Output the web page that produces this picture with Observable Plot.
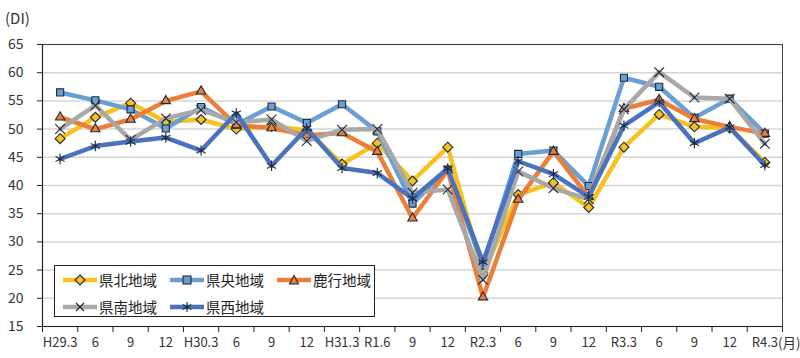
<!DOCTYPE html>
<html><head><meta charset="utf-8">
<script src="https://cdn.jsdelivr.net/npm/d3@7"></script>
<script src="https://cdn.jsdelivr.net/npm/@observablehq/plot@0.6"></script>
<style>
body{margin:0;background:#fff;font-family:"Noto Sans CJK JP","Noto Sans",sans-serif;}
#wrap{position:relative;width:800px;height:358px;}
#unit{position:absolute;left:5px;top:7px;font-size:15px;color:#333;}
#legend{position:absolute;left:54px;top:265px;width:321px;height:52px;border:1px solid #222;background:#fff;box-sizing:border-box;}
.li{position:absolute;display:flex;align-items:center;font-size:14.5px;color:#222;}
.li svg{margin-right:2px;}
</style></head>
<body><div id="wrap"><div id="unit">(DI)</div></div>
<script>
const labels = ["H29.3","6","9","12","H30.3","6","9","12","H31.3","R1.6","9","12","R2.3","6","9","12","R3.3","6","9","12","R4.3"];
const seriesNames = ["県北地域","県央地域","鹿行地域","県南地域","県西地域"];
const kenpoku = [48.3,52.1,54.6,51.3,51.7,50.0,50.5,49.8,43.8,47.5,40.8,46.8,24.5,38.4,40.5,36.1,46.8,52.6,50.4,50.2,44.1];
const kenou   = [56.5,55.1,53.5,50.1,53.9,50.8,54.0,51.1,54.4,49.6,36.8,42.8,25.8,45.6,46.2,39.9,59.1,57.5,52.0,55.4,49.2];
const rokko   = [52.1,50.0,51.7,55.0,56.7,50.7,50.2,48.9,49.3,46.0,34.2,42.7,20.2,37.5,46.0,38.0,53.6,55.2,51.8,50.4,49.2];
const kennan  = [50.0,54.2,48.1,51.9,53.4,51.2,51.7,47.9,49.9,50.0,38.7,39.3,23.3,42.5,39.5,37.6,53.5,60.1,55.6,55.4,47.4];
const kensei  = [44.7,47.0,47.8,48.5,46.2,52.8,43.5,50.1,43.1,42.2,37.7,43.0,26.4,44.3,42.0,38.0,50.6,54.8,47.5,50.3,43.6];
const colors = ["#F7C21E","#6A9FD4","#EB7F3A","#A8A8A8","#4A72BE"];
const symbols = ["diamond2","square2","triangle2","times","asterisk"];
const yTicks = [15,20,25,30,35,40,45,50,55,60,65];

const allValues = [kenpoku, kenou, rokko, kennan, kensei];
const data = [];
allValues.forEach((arr, s) => arr.forEach((v, i) => data.push({series: seriesNames[s], i, v})));
const boundaries = d3.range(labels.length + 1).map(k => k - 0.5);

const marks = [
  Plot.gridY(yTicks, {stroke: "#d4d4d4", strokeOpacity: 1, strokeWidth: 1.5}),
  Plot.frame({stroke: "#444"}),
  Plot.axisY(yTicks, {label: null, tickSize: 5, tickPadding: 14, fontSize: 14, fill: "#333", stroke: "#222"}),
  Plot.axisX(boundaries, {label: null, tickSize: 6, tickFormat: () => "", stroke: "#222"}),
  Plot.axisX(d3.range(labels.length), {label: null, tickSize: 0, tickPadding: 11, fontSize: 13, fill: "#333", tickFormat: i => labels[i]}),
  Plot.ruleY([15], {stroke: "#222", strokeWidth: 1.2}),
  Plot.ruleX([-0.5], {stroke: "#222", strokeWidth: 1.2}),
];
seriesNames.forEach((name, s) => {
  const d = data.filter(e => e.series === name);
  marks.push(Plot.line(d, {x: "i", y: "v", stroke: colors[s], strokeWidth: 4.5, strokeLinejoin: "round"}));
  marks.push(Plot.dot(d, {x: "i", y: "v", symbol: symbols[s], r: s === 4 ? 5 : 4.5, fill: s >= 3 ? "none" : colors[s], stroke: "#1f2a3a", strokeWidth: 1.1}));
});
marks.push(Plot.text([labels.length - 1], {x: d => d, y: () => 15, text: () => "(月)", dx: 13, dy: 17, textAnchor: "start", fontSize: 13.5, fill: "#333"}));

const chart = Plot.plot({
  width: 800, height: 358,
  marginLeft: 42, marginRight: 18, marginTop: 44, marginBottom: 32,
  x: {type: "linear", domain: [-0.5, labels.length - 0.5], axis: null, label: null},
  y: {domain: [15, 65], axis: null, label: null},
  style: {fontFamily: '"Noto Sans CJK JP","Noto Sans",sans-serif', background: "#fff", overflow: "visible"},
  marks
});
const wrap = document.getElementById("wrap");
wrap.insertBefore(chart, wrap.firstChild);

const legend = document.createElement("div");
legend.id = "legend";
const pos = [[8,3],[115,3],[222,3],[8,30],[115,30]];
const symPaths = {
  "diamond2": '<path d="M17,2 L22,7 L17,12 L12,7 Z"/>',
  "square2": '<rect x="13" y="3" width="8" height="8"/>',
  "triangle2": '<path d="M17,2.5 L21.5,11 L12.5,11 Z"/>',
  "times": '<path d="M13,3 L21,11 M21,3 L13,11" fill="none"/>',
  "asterisk": '<path d="M17,2 L17,12 M12.7,4.5 L21.3,9.5 M21.3,4.5 L12.7,9.5" fill="none"/>'
};
seriesNames.forEach((name, s) => {
  const it = document.createElement("div");
  it.className = "li";
  it.style.left = pos[s][0] + "px";
  it.style.top = pos[s][1] + "px";
  it.innerHTML = `<svg width="34" height="14"><line x1="0" y1="7" x2="34" y2="7" stroke="${colors[s]}" stroke-width="4.5"/><g fill="${s >= 3 ? "none" : colors[s]}" stroke="#1f2a3a" stroke-width="1.1">${symPaths[symbols[s]]}</g></svg><span>${name}</span>`;
  legend.appendChild(it);
});
wrap.appendChild(legend);
</script></body></html>
